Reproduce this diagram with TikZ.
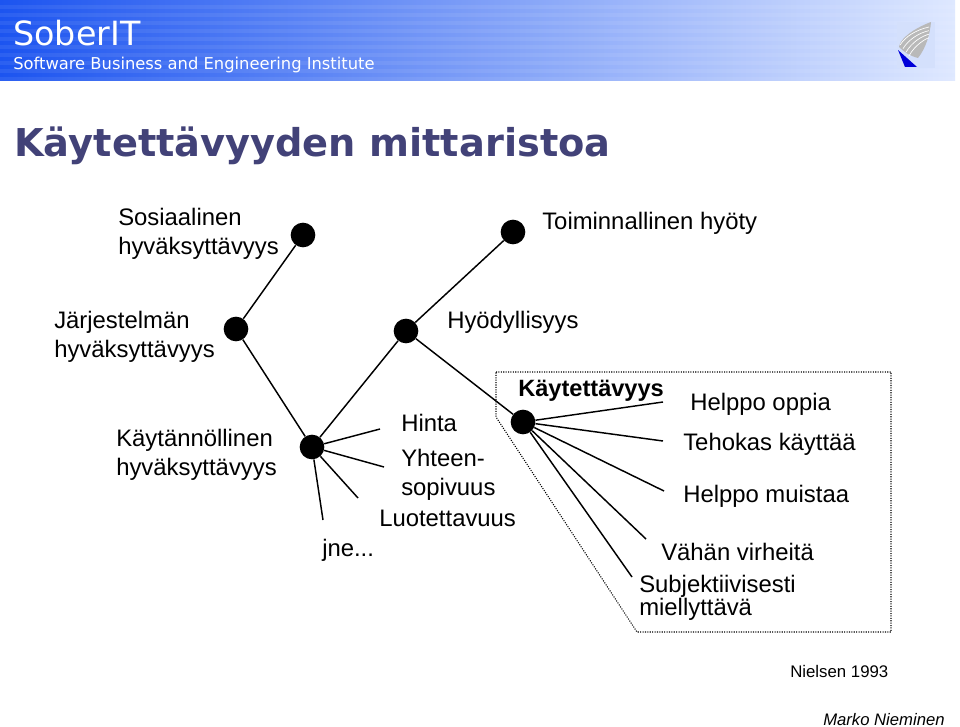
\documentclass[tikz,border=0pt]{standalone}
\usepackage{fontspec}
\setmainfont{Liberation Sans}
\newfontfamily\titlefont{DejaVu Sans}
\definecolor{titleblue}{RGB}{66,66,120}
\definecolor{bannerleft}{RGB}{28,84,240}
\definecolor{bannermid}{RGB}{112,152,250}
\definecolor{bannerright}{RGB}{222,232,255}
\definecolor{logoback}{RGB}{212,224,252}
\tikzset{
  dot/.style={circle, fill=black, inner sep=0pt, minimum size=18.5},
  branch/.style={line width=1.1pt, black},
  lbl/.style={inner sep=0pt, font=\fontsize{17.9}{21.8}\selectfont, align=left},
}

\begin{document}
\begin{tikzpicture}[x=0.75pt, y=-0.75pt]
\useasboundingbox[fill=white] (0,0) rectangle (960,727);
% banner
\shade[left color=bannerleft, middle color=bannermid, right color=bannerright] (0,1) rectangle (955,81);
\foreach \stripe in {5,13,...,77} {
  \fill[white, opacity=0.07] (0,\stripe) rectangle (955,\stripe+4);
}
\node[anchor=base west, inner sep=0pt, white, font=\titlefont\fontsize{25}{30}\selectfont] (soberit) at (13,46) {SoberIT};
\node[anchor=base west, inner sep=0pt, white, font=\titlefont\fontsize{12.25}{14}\selectfont] (institute) at (13,70) {Software Business and Engineering Institute};
% logo
\fill[logoback] (897,22) rectangle (935,68);
\fill[gray!55] (931,22) .. controls (915,28) and (900,38) .. (899,47) .. controls (904,52) and (910,56) .. (918,58) .. controls (926,48) and (930,34) .. (931,22) -- cycle;
\foreach \arcy in {0,6,12,18} {
  \draw[white, line width=0.5pt] (900+\arcy*0.5,45+\arcy*0.6) .. controls (906+\arcy*0.5,36+\arcy*0.5) and (916+\arcy*0.5,30+\arcy*0.5) .. (929,27+\arcy*0.6);
}
\fill[blue!85!black] (898,50) -- (917,67) -- (905,67) -- cycle;
% title
\node[anchor=base west, inner sep=0pt, text=titleblue, font=\titlefont\bfseries\fontsize{28.75}{34}\selectfont] (title) at (14,157) {Käytettävyyden mittaristoa};
% dots
\node[dot] (sosiaalinen) at (303,235) {};
\node[dot] (hyoty) at (513,232) {};
\node[dot] (jarjestelma) at (236,329) {};
\node[dot] (hyodyllisyys) at (406,331) {};
\node[dot] (kaytannollinen) at (312,447) {};
\node[dot] (kaytettavyys) at (523,422) {};
% free ends
\coordinate (hintaend) at (380,429);
\coordinate (yhteenend) at (384,467);
\coordinate (luotettavend) at (358,498);
\coordinate (jneend) at (323,520);
\coordinate (oppiaend) at (663,402);
\coordinate (tehokasend) at (663,441);
\coordinate (muistaaend) at (664,491);
\coordinate (virheetend) at (646,539);
\coordinate (subjend) at (632,577);
% tree
\draw[branch] (sosiaalinen) -- (jarjestelma);
\draw[branch] (jarjestelma) -- (kaytannollinen);
\draw[branch] (hyoty) -- (hyodyllisyys);
\draw[branch] (hyodyllisyys) -- (kaytannollinen);
\draw[branch] (hyodyllisyys) -- (kaytettavyys);
\foreach \tip in {hintaend,yhteenend,luotettavend,jneend} {
  \draw[branch] (kaytannollinen) -- (\tip);
}
\foreach \tip in {oppiaend,tehokasend,muistaaend,virheetend,subjend} {
  \draw[branch] (kaytettavyys) -- (\tip);
}
% dotted area
\draw[densely dotted, line width=0.8pt] (496,372) -- (891,372) -- (891,632) -- (637,632) -- (496,417) -- cycle;
% labels
\node[lbl, anchor=west] (sosiaalinenlbl) at (118,234) {Sosiaalinen\\hyväksyttävyys};
\node[lbl, anchor=west] (hyotylbl) at (542,223) {Toiminnallinen hyöty};
\node[lbl, anchor=west] (jarjestelmalbl) at (54,337) {Järjestelmän\\hyväksyttävyys};
\node[lbl, anchor=base west] (hyodyllisyyslbl) at (447,329) {Hyödyllisyys};
\node[lbl, anchor=west] (kaytannollinenlbl) at (116,455) {Käytännöllinen\\hyväksyttävyys};
\node[lbl, anchor=base west] (hintalbl) at (401,431) {Hinta};
\node[lbl, anchor=west] (yhteenlbl) at (401,475) {Yhteen-\\sopivuus};
\node[lbl, anchor=base west] (luotettavuuslbl) at (379,526) {Luotettavuus};
\node[lbl, anchor=base west] (jnelbl) at (322,556) {jne...};
\node[lbl, anchor=base west, font=\bfseries\fontsize{17.7}{21}\selectfont] (kaytettavyyslbl) at (518,396) {Käytettävyys};
\node[lbl, anchor=base west] (oppialbl) at (690,410) {Helppo oppia};
\node[lbl, anchor=base west] (tehokaslbl) at (683,450) {Tehokas käyttää};
\node[lbl, anchor=base west] (muistaalbl) at (683,502) {Helppo muistaa};
\node[lbl, anchor=base west] (virheetlbl) at (661,560) {Vähän virheitä};
\node[lbl, anchor=west, font=\fontsize{17.9}{15.6}\selectfont] (subjlbl) at (639,598) {Subjektiivisesti\\miellyttävä};
\node[lbl, anchor=base west, font=\fontsize{12.6}{15}\selectfont] (nielsen) at (790,677) {Nielsen 1993};
\node[lbl, anchor=base west, font=\itshape\fontsize{12.5}{14}\selectfont] (marko) at (823,725) {Marko Nieminen};
\end{tikzpicture}
\end{document}
